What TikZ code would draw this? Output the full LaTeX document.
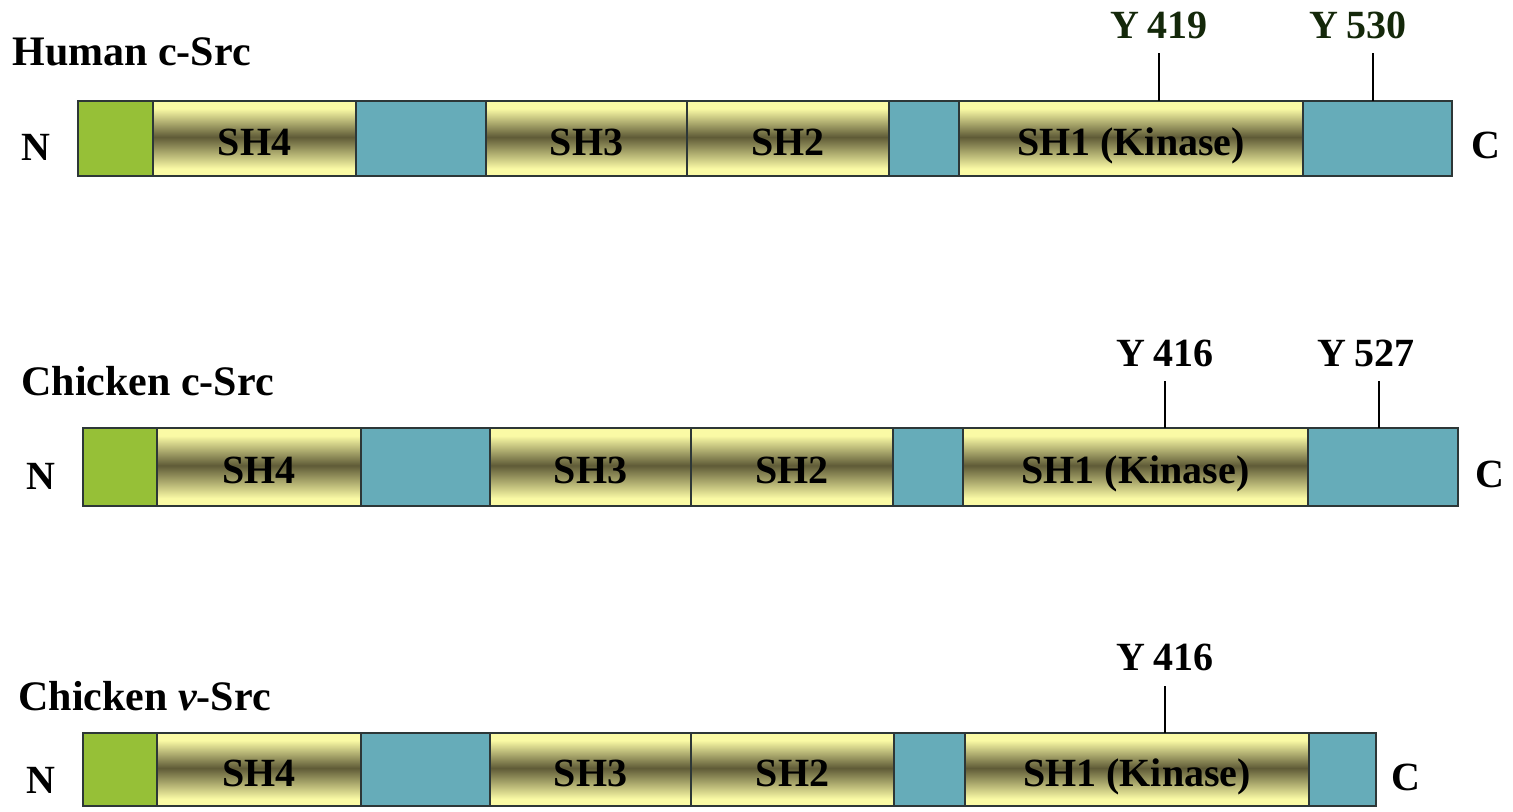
\documentclass[tikz,border=0pt]{standalone}
\usepackage{fontspec}
\setmainfont{Liberation Serif}
\definecolor{lyel}{RGB}{250,250,165}
\definecolor{dkol}{RGB}{95,91,55}
\definecolor{grn}{RGB}{150,192,55}
\definecolor{tea}{RGB}{102,172,185}
\definecolor{edgec}{RGB}{45,55,55}
\definecolor{dgreen}{RGB}{20,40,10}
\pgfdeclareverticalshading{band}{100bp}{color(0bp)=(lyel); color(25bp)=(lyel); color(30bp)=(lyel); color(51bp)=(dkol); color(70bp)=(lyel); color(75bp)=(lyel); color(100bp)=(lyel)}
\newcommand\dombox[7]{\node[#2, anchor=north west, minimum width={(#4-#3)*0.5pt}, minimum height={(#6-#5)*0.5pt}] (#1) at (#3,#5) {#7};}
\begin{document}
\begin{tikzpicture}[x=0.5pt,y=-0.5pt,
  dom/.style={draw=edgec, line width=0.75pt, inner sep=0pt, outer sep=0pt, text height=16.5pt, text depth=0pt, font=\bfseries\fontsize{20}{24}\selectfont},
  nterm/.style={dom, fill=grn},
  linker/.style={dom, fill=tea},
  shdom/.style={dom, shading=band},
  title/.style={anchor=base west, inner sep=0pt, font=\bfseries\fontsize{21}{25}\selectfont},
  term/.style={anchor=base, inner sep=0pt, font=\bfseries\fontsize{20}{24}\selectfont},
  site/.style={anchor=base, inner sep=0pt, font=\bfseries\fontsize{20}{24}\selectfont},
  tick/.style={draw=black, line width=1pt}]
\useasboundingbox (0,0) rectangle (1513,811);

% ---------- Row 1: Human c-Src ----------
\node[title] (t1) at (12,65) {Human c-Src};
\dombox{a0}{nterm}{78}{153}{101}{176}{}
\dombox{a1}{shdom}{153}{356}{101}{176}{SH4}
\dombox{a2}{linker}{356}{486}{101}{176}{}
\dombox{a3}{shdom}{486}{687}{101}{176}{SH3}
\dombox{a4}{shdom}{687}{889}{101}{176}{SH2}
\dombox{a5}{linker}{889}{959}{101}{176}{}
\dombox{a6}{shdom}{959}{1303}{101}{176}{SH1 (Kinase)}
\dombox{a7}{linker}{1303}{1452}{101}{176}{}
\node[term] (an) at (36,160) {N};
\node[term] (ac) at (1486,158) {C};
\node[site, text=dgreen] (ay1) at (1159,38) {Y\kern4pt419};
\node[site, text=dgreen] (ay2) at (1358,38) {Y\kern4pt530};
\coordinate (ak1) at (1159,53);
\coordinate (ak2) at (1373,53);
\draw[tick] (ak1) -- (ak1 |- a6.north);
\draw[tick] (ak2) -- (ak2 |- a7.north);

% ---------- Row 2: Chicken c-Src ----------
\node[title] (t2) at (21,395) {Chicken c-Src};
\dombox{b0}{nterm}{83}{157}{428}{506}{}
\dombox{b1}{shdom}{157}{361}{428}{506}{SH4}
\dombox{b2}{linker}{361}{490}{428}{506}{}
\dombox{b3}{shdom}{490}{691}{428}{506}{SH3}
\dombox{b4}{shdom}{691}{893}{428}{506}{SH2}
\dombox{b5}{linker}{893}{963}{428}{506}{}
\dombox{b6}{shdom}{963}{1308}{428}{506}{SH1 (Kinase)}
\dombox{b7}{linker}{1308}{1458}{428}{506}{}
\node[term] (bn) at (40.5,489) {N};
\node[term] (bc) at (1490,487) {C};
\node[site] (by1) at (1165,366) {Y\kern4pt416};
\node[site] (by2) at (1366,366) {Y\kern4pt527};
\coordinate (bk1) at (1165,381);
\coordinate (bk2) at (1379,381);
\draw[tick] (bk1) -- (bk1 |- b6.north);
\draw[tick] (bk2) -- (bk2 |- b7.north);

% ---------- Row 3: Chicken v-Src ----------
\node[title] (t3) at (18,710) {Chicken {\itshape v}-Src};
\dombox{c0}{nterm}{83}{157}{733}{806}{}
\dombox{c1}{shdom}{157}{361}{733}{806}{SH4}
\dombox{c2}{linker}{361}{490}{733}{806}{}
\dombox{c3}{shdom}{490}{691}{733}{806}{SH3}
\dombox{c4}{shdom}{691}{894}{733}{806}{SH2}
\dombox{c5}{linker}{894}{965}{733}{806}{}
\dombox{c6}{shdom}{965}{1309}{733}{806}{SH1 (Kinase)}
\dombox{c7}{linker}{1309}{1376}{733}{806}{}
\node[term] (cn) at (40.5,793) {N};
\node[term] (cc) at (1406,790) {C};
\node[site] (cy1) at (1165,670) {Y\kern4pt416};
\coordinate (ck1) at (1165,686);
\draw[tick] (ck1) -- (ck1 |- c6.north);
\end{tikzpicture}
\end{document}
